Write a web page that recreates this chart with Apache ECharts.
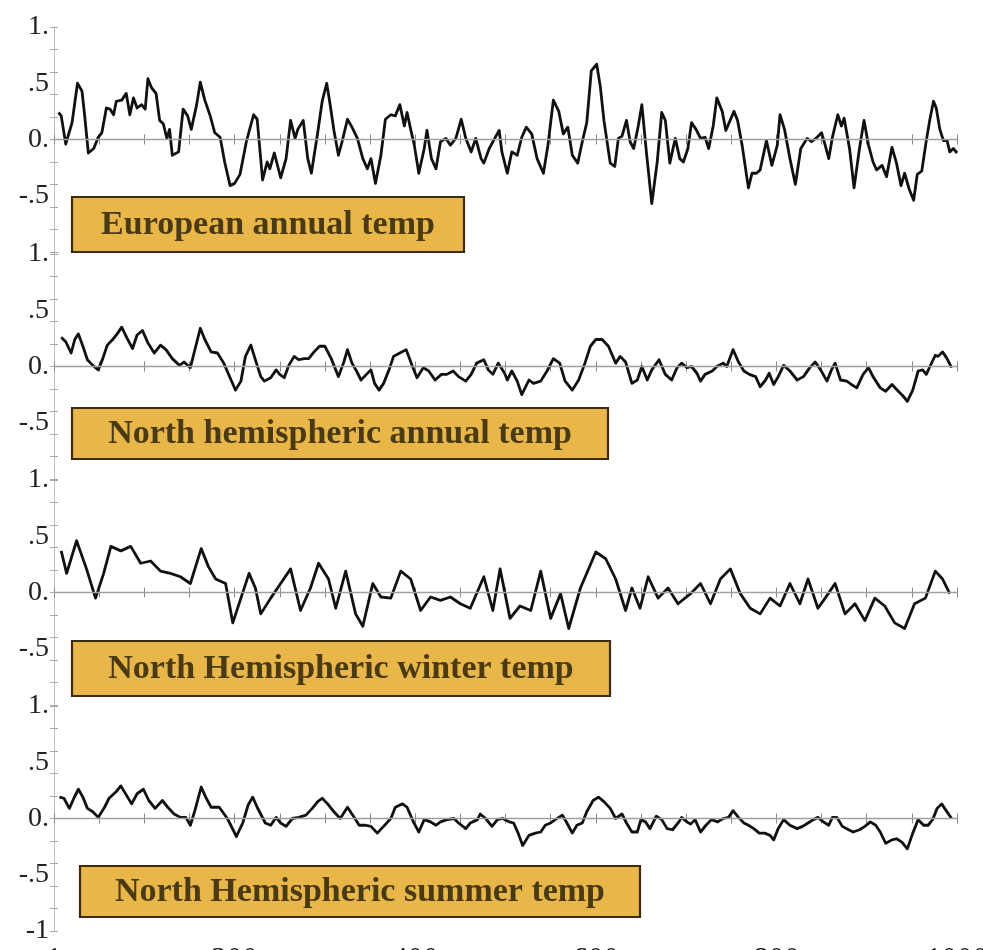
<!DOCTYPE html>
<html><head><meta charset="utf-8">
<script src="https://cdn.jsdelivr.net/npm/echarts@6/dist/echarts.min.js"></script>
<style>html,body{margin:0;padding:0;background:#fff}#c{width:983px;height:950px}</style>
</head><body><div id="c"></div>
<script>
// ---- Data ----
const panelTitles = ["European annual temp","North hemispheric annual temp","North Hemispheric winter temp","North Hemispheric summer temp"];
const xTickLabels = [1,200,400,600,800,1000];
const yTickLabels = {"1":"1.","0.5":".5","0":"0.","-0.5":"-.5","-1":"-1"};

const euYears = [5,8,13,20,26,31,34,38,44,49,53,58,62,66,69,75,80,84,88,92,97,101,104,108,113,117,121,125,128,131,138,143,148,152,158,162,167,173,178,184,189,195,200,206,213,221,225,231,236,239,244,251,257,262,267,270,276,281,285,292,297,302,306,310,315,319,325,330,336,342,347,351,356,362,367,373,378,383,388,391,395,399,404,410,413,418,423,428,434,439,445,451,456,462,467,473,476,482,488,493,496,502,507,513,518,523,529,535,542,547,553,559,564,569,574,580,585,590,595,601,605,609,616,621,625,629,634,638,642,647,651,656,662,668,673,677,682,688,693,697,702,706,711,716,721,725,730,734,740,744,753,757,762,769,773,778,782,789,795,801,804,809,815,821,827,834,839,845,850,854,858,862,868,872,875,881,886,892,897,902,907,911,917,922,928,933,938,942,947,952,956,961,966,970,974,977,981,985,989,992,996,1000];
const euValues = [0.24,0.21,-0.04,0.15,0.50,0.43,0.21,-0.12,-0.08,0.02,0.06,0.28,0.27,0.22,0.34,0.35,0.41,0.22,0.37,0.28,0.31,0.27,0.54,0.46,0.41,0.17,0.14,0.01,0.09,-0.14,-0.11,0.27,0.21,0.09,0.31,0.51,0.35,0.21,0.06,0.02,-0.20,-0.41,-0.39,-0.31,-0.02,0.22,0.18,-0.36,-0.20,-0.26,-0.12,-0.34,-0.17,0.17,0.01,0.09,0.17,-0.17,-0.30,0.06,0.34,0.50,0.30,0.08,-0.14,-0.02,0.18,0.11,0.01,-0.17,-0.26,-0.17,-0.39,-0.14,0.18,0.22,0.21,0.31,0.12,0.24,0.09,-0.05,-0.30,-0.08,0.08,-0.17,-0.26,-0.02,0.01,-0.05,0.01,0.18,0.01,-0.11,0.01,-0.17,-0.21,-0.08,0.01,0.08,-0.11,-0.30,-0.11,-0.14,0.02,0.11,0.05,-0.17,-0.30,-0.05,0.35,0.25,0.05,0.11,-0.14,-0.21,-0.02,0.15,0.61,0.67,0.47,0.17,-0.21,-0.24,0.01,0.03,0.17,-0.02,-0.08,0.12,0.31,-0.11,-0.57,-0.20,0.24,0.17,-0.21,0.01,-0.17,-0.20,-0.08,0.15,0.09,0.01,0.02,-0.08,0.12,0.37,0.25,0.08,0.25,0.17,-0.05,-0.43,-0.30,-0.30,-0.27,-0.01,-0.23,-0.05,0.22,0.09,-0.17,-0.40,-0.08,0.01,-0.02,0.02,0.06,-0.05,-0.17,0.02,0.22,0.12,0.19,-0.08,-0.43,-0.08,0.17,-0.05,-0.20,-0.27,-0.23,-0.33,-0.07,-0.21,-0.41,-0.30,-0.44,-0.54,-0.31,-0.28,-0.01,0.18,0.34,0.28,0.09,-0.01,-0.01,-0.11,-0.08,-0.12];

const nhYears = [8,13,19,23,27,32,37,43,49,54,59,65,70,75,81,87,92,98,104,111,118,124,131,139,144,151,157,162,167,174,181,188,195,201,207,212,218,223,229,233,240,246,250,255,260,266,271,277,282,288,294,300,307,315,321,325,330,335,340,346,351,355,360,365,371,376,383,390,397,402,409,415,422,429,435,442,448,456,462,468,476,481,486,492,499,502,507,513,518,526,531,539,546,553,560,566,574,581,588,594,600,607,614,622,627,633,640,646,651,657,662,670,677,684,690,695,701,706,712,716,721,729,734,741,745,752,758,764,770,777,782,788,792,797,802,808,815,823,830,837,843,849,856,861,865,871,878,883,889,896,902,907,915,921,928,935,940,945,951,957,962,966,970,976,979,984,989,994];
const nhValues = [0.26,0.22,0.12,0.24,0.29,0.18,0.06,0.01,-0.03,0.07,0.19,0.24,0.29,0.35,0.25,0.16,0.28,0.32,0.21,0.12,0.19,0.15,0.07,0.01,0.04,-0.01,0.18,0.34,0.24,0.13,0.12,0.03,-0.10,-0.21,-0.13,0.09,0.19,0.06,-0.09,-0.13,-0.10,-0.03,-0.07,-0.10,0.01,0.09,0.06,0.07,0.07,0.13,0.18,0.18,0.07,-0.09,0.04,0.15,0.03,-0.04,-0.12,-0.07,-0.03,-0.15,-0.21,-0.15,-0.03,0.09,0.12,0.15,0.00,-0.10,-0.01,-0.04,-0.12,-0.07,-0.07,-0.04,-0.09,-0.13,-0.07,0.03,0.06,-0.03,-0.07,0.03,-0.06,-0.12,-0.04,-0.13,-0.25,-0.12,-0.15,-0.13,-0.04,0.07,0.03,-0.13,-0.21,-0.12,0.03,0.18,0.24,0.24,0.18,0.03,0.09,0.04,-0.15,-0.12,0.00,-0.12,-0.03,0.06,-0.07,-0.12,-0.01,0.03,-0.01,0.00,-0.06,-0.13,-0.07,-0.04,0.00,0.03,0.00,0.15,0.04,-0.04,-0.07,-0.09,-0.18,-0.12,-0.06,-0.16,-0.09,0.01,-0.04,-0.12,-0.09,-0.01,0.04,-0.03,-0.13,-0.03,0.03,-0.12,-0.13,-0.16,-0.19,-0.07,-0.01,-0.09,-0.19,-0.22,-0.16,-0.22,-0.26,-0.31,-0.21,-0.04,-0.03,-0.07,0.00,0.10,0.09,0.13,0.07,-0.01];

const winYears = [8,14,25,36,46,55,63,74,85,96,107,118,129,140,151,163,171,179,190,198,207,216,223,229,240,251,262,273,284,293,304,312,323,334,342,353,362,373,384,395,406,417,428,439,450,461,476,486,494,505,516,528,539,550,561,570,583,600,611,622,633,640,649,658,669,680,691,705,716,727,738,749,760,771,782,793,804,815,826,835,846,854,865,876,887,898,909,920,931,942,953,965,976,984,992];
const winValues = [0.37,0.17,0.46,0.21,-0.05,0.17,0.41,0.37,0.41,0.26,0.28,0.19,0.17,0.14,0.08,0.39,0.23,0.12,0.08,-0.27,-0.05,0.17,0.04,-0.19,-0.05,0.08,0.21,-0.16,0.04,0.26,0.12,-0.14,0.19,-0.19,-0.30,0.08,-0.04,-0.05,0.19,0.12,-0.16,-0.04,-0.07,-0.04,-0.10,-0.14,0.14,-0.16,0.21,-0.23,-0.12,-0.16,0.19,-0.23,-0.01,-0.32,0.04,0.36,0.30,0.12,-0.16,0.04,-0.14,0.14,-0.05,0.04,-0.10,-0.01,0.08,-0.10,0.12,0.21,-0.01,-0.14,-0.19,-0.05,-0.12,0.08,-0.10,0.12,-0.14,-0.05,0.08,-0.19,-0.10,-0.25,-0.05,-0.12,-0.27,-0.32,-0.10,-0.05,0.19,0.12,-0.01];

const sumYears = [6,11,17,22,27,32,37,43,49,56,61,69,74,80,86,92,99,105,112,120,126,133,140,146,151,156,163,168,174,183,192,202,209,215,220,225,234,240,246,251,257,264,271,279,286,292,297,303,310,317,325,330,338,345,351,358,365,373,378,386,391,398,404,410,417,423,428,435,443,448,456,461,469,472,478,485,491,497,504,509,514,519,526,533,539,544,550,555,563,568,574,579,585,590,597,603,609,616,622,629,634,640,646,650,655,660,667,673,679,685,692,695,701,705,710,716,722,728,735,741,747,752,758,764,769,775,781,787,793,797,802,808,815,823,829,835,841,846,852,858,862,867,873,880,885,892,898,904,910,915,921,928,933,939,945,951,957,963,968,973,978,983,988,994];
const sumValues = [0.19,0.18,0.09,0.18,0.26,0.19,0.09,0.06,0.01,0.10,0.18,0.24,0.29,0.21,0.13,0.22,0.26,0.16,0.09,0.16,0.10,0.04,0.01,0.01,-0.06,0.07,0.28,0.19,0.10,0.10,0.00,-0.16,-0.04,0.12,0.19,0.10,-0.04,-0.06,0.01,-0.04,-0.07,0.00,0.01,0.03,0.09,0.15,0.18,0.13,0.06,0.00,0.10,0.04,-0.06,-0.06,-0.07,-0.13,-0.07,0.00,0.10,0.13,0.10,-0.03,-0.12,-0.01,-0.03,-0.06,-0.03,-0.01,0.00,-0.04,-0.09,-0.04,-0.01,0.04,0.00,-0.07,-0.01,0.00,-0.03,-0.04,-0.13,-0.24,-0.15,-0.13,-0.12,-0.06,-0.04,-0.01,0.03,-0.04,-0.13,-0.06,-0.04,0.06,0.16,0.19,0.15,0.09,0.00,0.04,-0.04,-0.12,-0.12,-0.01,-0.03,-0.09,0.02,-0.01,-0.09,-0.10,-0.03,0.01,-0.03,-0.05,-0.01,-0.12,-0.06,-0.01,-0.03,0.00,0.01,0.07,0.01,-0.04,-0.06,-0.09,-0.13,-0.13,-0.15,-0.19,-0.09,-0.01,-0.06,-0.09,-0.07,-0.04,-0.01,0.01,-0.03,-0.06,0.01,0.01,-0.07,-0.10,-0.12,-0.10,-0.07,-0.03,-0.06,-0.12,-0.22,-0.19,-0.18,-0.21,-0.27,-0.13,-0.01,-0.06,-0.06,-0.01,0.09,0.13,0.07,0.00];

const seriesYears = [euYears, nhYears, winYears, sumYears];
const seriesValues = [euValues, nhValues, winValues, sumValues];

// ---- Layout ----
const panelTops = [27, 254, 480, 706];
const panelH = 225;
const boxes = [
  {x:72, y:197, w:392, h:55},
  {x:72, y:408, w:536, h:51},
  {x:72, y:641, w:538, h:55},
  {x:80, y:866, w:560, h:51}
];
const frameColor = '#9a9a9a';
const serif = '"Liberation Serif","Times New Roman",serif';

const grids=[], xAxes=[], yAxes=[], series=[], graphics=[];
for (let i=0;i<4;i++){
  grids.push({left:54, right:26, top:panelTops[i], height:panelH, containLabel:false, outerBoundsMode:'none'});
  const last = i===3;
  const xBase = {
    type:'value', gridIndex:i, min:0, max:1000, interval:50,
    axisLine:{show:true, lineStyle:{color:frameColor, width:1}},
    axisTick:{show:true, inside:true, length:5, lineStyle:{color:'#888'}},
    splitLine:{show:false}
  };
  xAxes.push(Object.assign({}, xBase, {
    position:'bottom',
    axisLabel:{show:last, margin:14, fontFamily:serif, fontSize:31, color:'#111', hideOverlap:false,
      formatter:v=> v===0 ? String(xTickLabels[0]) : (xTickLabels.indexOf(v)>=0 ? String(v) : '')}
  }));
  xAxes.push(Object.assign({}, xBase, {position:'top', axisLabel:{show:false}}));
  yAxes.push({
    type:'value', gridIndex:i, min:-1, max:1, interval:0.5, position:'left',
    axisLine:{show:true, lineStyle:{color:frameColor, width:1}},
    axisTick:{show:false}, splitLine:{show:false},
    axisLabel:{margin:5, fontFamily:serif, fontSize:28, color:'#222',
      formatter:v=>{ const k=String(Math.round(v*10)/10); if(k==='-1' && !last) return ''; return yTickLabels[k]||''; }}
  });
  yAxes.push({
    type:'value', gridIndex:i, min:-1, max:1, interval:0.2, position:'right',
    axisLine:{show:true, lineStyle:{color:'#bdbdbd', width:1}},
    axisTick:{show:true, inside:true, length:4, lineStyle:{color:'#aaa'}},
    axisLabel:{show:false}, splitLine:{show:false}
  });
  yAxes.push({
    type:'value', gridIndex:i, min:-1, max:1, interval:0.2, position:'left',
    axisLine:{show:false},
    axisTick:{show:true, inside:true, length:4, lineStyle:{color:'#aaa'}},
    axisLabel:{show:false}, splitLine:{show:false}
  });
  const data = seriesYears[i].map((yr,j)=>[yr, seriesValues[i][j]]);
  series.push({
    type:'line', xAxisIndex:2*i, yAxisIndex:3*i, data:data,
    showSymbol:false, symbol:'none', smooth:false, animation:false,
    lineStyle:{color:'#111', width:2.8, join:'round'},
    markLine:{silent:true, symbol:['none','none'], label:{show:false},
      lineStyle:{color:'#a0a0a0', width:1.3, type:'solid'}, data:[{yAxis:0}]},
    z:3
  });
  const b = boxes[i];
  graphics.push({type:'rect', z:100, shape:{x:b.x, y:b.y, width:b.w, height:b.h},
    style:{fill:'#e8b649', stroke:'#3b2c10', lineWidth:2.2}});
  graphics.push({type:'text', z:101, x:b.x+b.w/2, y:b.y+b.h/2+1,
    style:{text:panelTitles[i], fill:'#4a3a12', font:'bold 34px '+serif, align:'center', verticalAlign:'middle'}});
}

const chart = echarts.init(document.getElementById('c'), null, {renderer:'canvas'});
chart.setOption({
  animation:false,
  backgroundColor:'#ffffff',
  grid:grids, xAxis:xAxes, yAxis:yAxes, series:series, graphic:graphics
});
</script></body></html>
